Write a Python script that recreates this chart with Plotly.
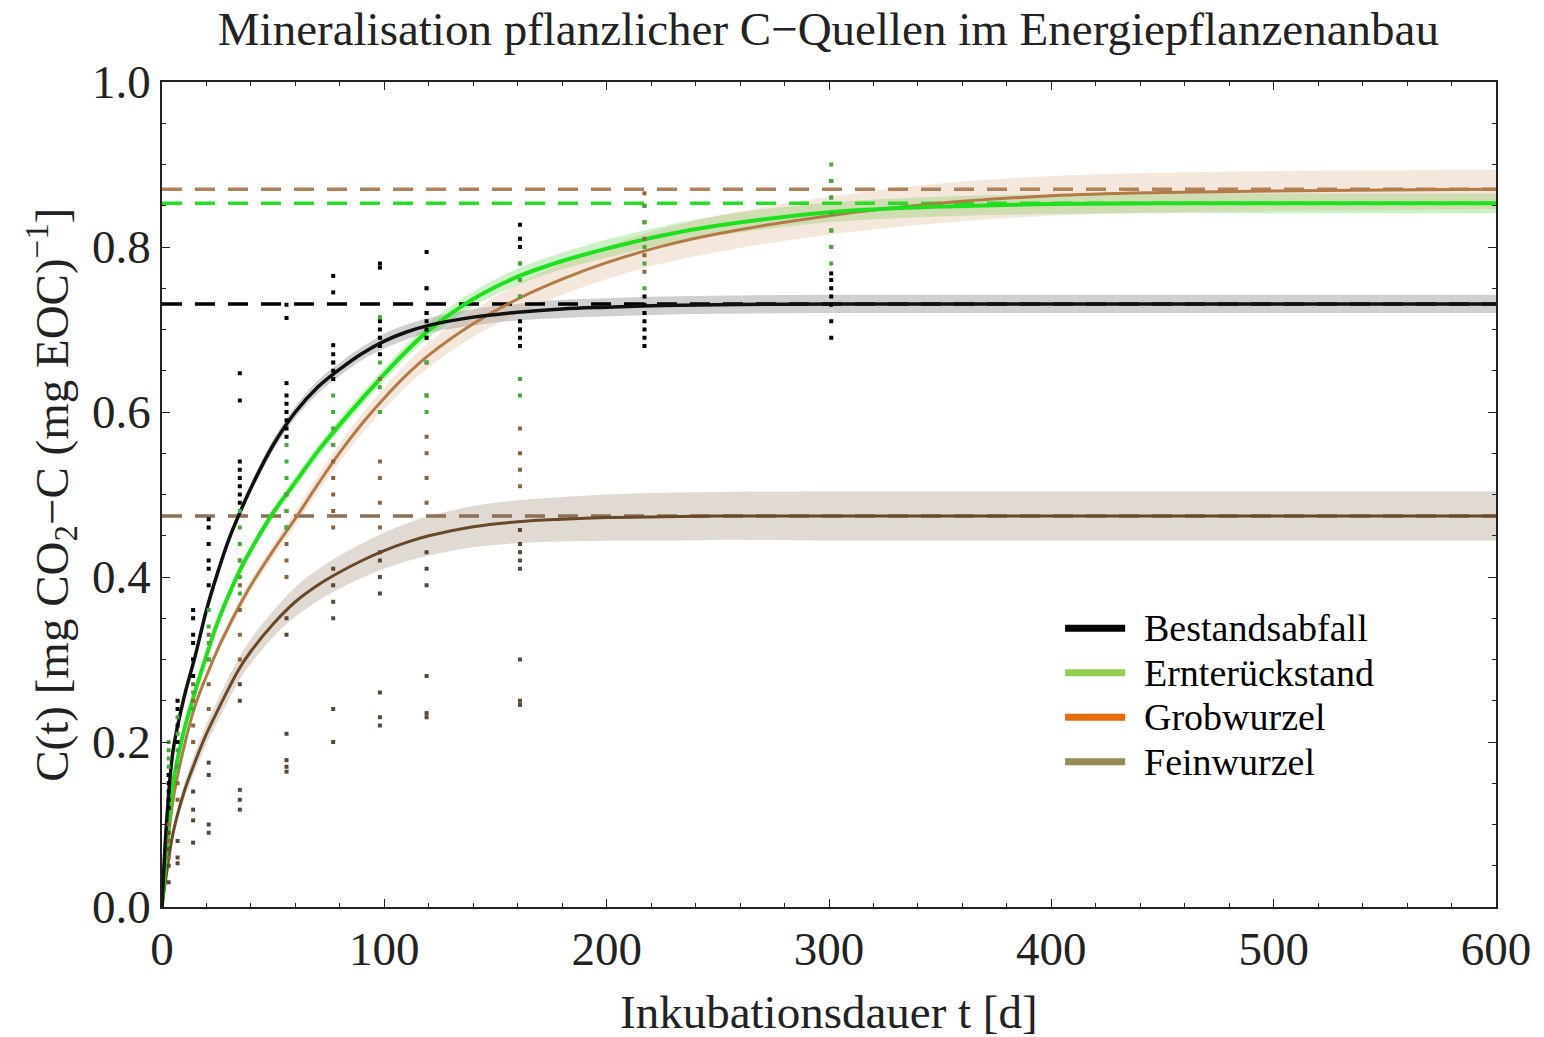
import plotly.graph_objects as go

# ---------------- data ----------------
series_names = ["Bestandsabfall", "Ernterückstand", "Grobwurzel", "Feinwurzel"]
legend_colors = ["#000000", "#92D050", "#E46C0A", "#948A54"]

# fitted curves sampled at these days
fit_days = [0, 2, 5, 10, 15, 20, 25, 30, 35, 40, 50, 60, 70, 80, 90, 100, 110, 120,
            140, 160, 180, 200, 225, 250, 300, 350, 400, 450, 500, 550, 600]
fit_bestandsabfall = [0, 0.10, 0.19, 0.255, 0.305, 0.36, 0.405, 0.445, 0.478, 0.508, 0.56, 0.60,
                      0.63, 0.652, 0.671, 0.686, 0.697, 0.705, 0.715, 0.721, 0.725, 0.727, 0.729,
                      0.730, 0.731, 0.731, 0.731, 0.731, 0.731, 0.731, 0.731]
fit_ernterueckstand = [0, 0.07, 0.15, 0.215, 0.262, 0.305, 0.345, 0.378, 0.408, 0.433, 0.478, 0.515,
                       0.552, 0.585, 0.616, 0.646, 0.674, 0.699, 0.737, 0.764, 0.783, 0.798, 0.814,
                       0.826, 0.842, 0.849, 0.852, 0.853, 0.853, 0.853, 0.853]
fit_grobwurzel = [0, 0.06, 0.13, 0.195, 0.245, 0.28, 0.312, 0.34, 0.366, 0.39, 0.432, 0.471,
                  0.512, 0.551, 0.586, 0.617, 0.645, 0.669, 0.707, 0.737, 0.761, 0.781, 0.801,
                  0.816, 0.838, 0.853, 0.862, 0.866, 0.868, 0.869, 0.870]
fit_feinwurzel = [0, 0.04, 0.09, 0.14, 0.177, 0.21, 0.238, 0.265, 0.29, 0.31, 0.343, 0.37,
                  0.39, 0.406, 0.42, 0.432, 0.442, 0.450, 0.461, 0.467, 0.470, 0.472, 0.473,
                  0.474, 0.474, 0.474, 0.474, 0.474, 0.474, 0.474, 0.474]

# half widths of the confidence bands on the same days
band_bestandsabfall = [0, 0.002, 0.003, 0.004, 0.004, 0.005, 0.005, 0.006, 0.006, 0.006, 0.007, 0.007,
                       0.008, 0.008, 0.008, 0.009, 0.009, 0.009, 0.010, 0.010, 0.011, 0.011, 0.011,
                       0.011, 0.011, 0.011, 0.011, 0.011, 0.011, 0.011, 0.011]
band_ernterueckstand = [0, 0.002, 0.003, 0.004, 0.004, 0.005, 0.005, 0.005, 0.006, 0.006, 0.006, 0.007,
                        0.007, 0.007, 0.008, 0.008, 0.008, 0.009, 0.009, 0.010, 0.010, 0.011, 0.011,
                        0.012, 0.012, 0.012, 0.012, 0.012, 0.012, 0.012, 0.012]
band_grobwurzel = [0, 0.002, 0.003, 0.004, 0.005, 0.005, 0.006, 0.006, 0.007, 0.007, 0.008, 0.009,
                   0.010, 0.011, 0.012, 0.013, 0.014, 0.015, 0.016, 0.018, 0.019, 0.020, 0.021,
                   0.022, 0.023, 0.024, 0.024, 0.024, 0.024, 0.024, 0.024]
band_feinwurzel = [0, 0.004, 0.007, 0.009, 0.011, 0.012, 0.013, 0.014, 0.014, 0.015, 0.016, 0.018,
                   0.019, 0.020, 0.021, 0.022, 0.023, 0.024, 0.025, 0.026, 0.027, 0.028, 0.029,
                   0.029, 0.030, 0.030, 0.030, 0.030, 0.030, 0.030, 0.030]

# asymptotes (dashed lines)
asymptotes = [0.731, 0.853, 0.870, 0.474]

# measured replicates
pts_bestandsabfall_t = [3]*5 + [7]*4 + [14]*6 + [21]*6 + [35]*8 + [56]*9 + [77]*7 + [98]*7 + [119]*6 + [161]*7 + [217]*7 + [301]*7
pts_bestandsabfall_v = [0.12, 0.13, 0.14, 0.15, 0.16,
                        0.20, 0.22, 0.24, 0.25,
                        0.28, 0.30, 0.32, 0.33, 0.35, 0.36,
                        0.39, 0.41, 0.42, 0.44, 0.46, 0.47,
                        0.49, 0.50, 0.51, 0.52, 0.53, 0.54, 0.614, 0.647,
                        0.57, 0.58, 0.59, 0.60, 0.61, 0.62, 0.635, 0.714, 0.73,
                        0.64, 0.65, 0.66, 0.67, 0.681, 0.745, 0.765,
                        0.67, 0.68, 0.69, 0.70, 0.71, 0.775, 0.78,
                        0.69, 0.70, 0.71, 0.72, 0.75, 0.794,
                        0.68, 0.69, 0.70, 0.71, 0.80, 0.81, 0.827,
                        0.68, 0.69, 0.70, 0.71, 0.72, 0.73, 0.74,
                        0.69, 0.71, 0.73, 0.74, 0.75, 0.76, 0.768]

pts_ernterueckstand_t = [3]*5 + [7]*4 + [14]*4 + [21]*4 + [35]*6 + [56]*6 + [77]*6 + [98]*5 + [119]*6 + [161]*7 + [217]*6 + [301]*7
pts_ernterueckstand_v = [0.16, 0.17, 0.18, 0.19, 0.20,
                         0.17, 0.19, 0.21, 0.23,
                         0.24, 0.26, 0.28, 0.30,
                         0.30, 0.32, 0.34, 0.36,
                         0.38, 0.40, 0.42, 0.44, 0.46, 0.48,
                         0.46, 0.48, 0.50, 0.52, 0.54, 0.56,
                         0.56, 0.58, 0.60, 0.62, 0.64, 0.66,
                         0.60, 0.63, 0.66, 0.69, 0.715,
                         0.60, 0.62, 0.66, 0.69, 0.72, 0.75,
                         0.62, 0.64, 0.74, 0.76, 0.78, 0.80, 0.81,
                         0.72, 0.75, 0.78, 0.80, 0.83, 0.85,
                         0.78, 0.80, 0.82, 0.84, 0.86, 0.88, 0.90]

pts_grobwurzel_t = [3]*4 + [7]*3 + [14]*4 + [21]*4 + [35]*5 + [56]*6 + [77]*6 + [98]*6 + [119]*7 + [161]*7 + [217]*6 + [301]*5
pts_grobwurzel_v = [0.06, 0.08, 0.10, 0.12,
                    0.13, 0.15, 0.17,
                    0.20, 0.22, 0.25, 0.27,
                    0.24, 0.27, 0.30, 0.33,
                    0.30, 0.33, 0.36, 0.39, 0.42,
                    0.40, 0.42, 0.44, 0.46, 0.48, 0.50,
                    0.46, 0.48, 0.50, 0.52, 0.54, 0.56,
                    0.46, 0.49, 0.52, 0.54, 0.60, 0.64,
                    0.49, 0.52, 0.55, 0.57, 0.62, 0.66, 0.70,
                    0.51, 0.53, 0.55, 0.58, 0.70, 0.74, 0.78,
                    0.77, 0.79, 0.81, 0.83, 0.85, 0.865,
                    0.80, 0.82, 0.84, 0.86, 0.88]

pts_feinwurzel_t = [3]*4 + [7]*3 + [14]*4 + [21]*4 + [35]*5 + [56]*6 + [77]*6 + [98]*7 + [119]*6 + [161]*8
pts_feinwurzel_v = [0.03, 0.05, 0.07, 0.09,
                    0.053, 0.06, 0.08,
                    0.078, 0.105, 0.118, 0.14,
                    0.09, 0.10, 0.16, 0.175,
                    0.118, 0.13, 0.142, 0.25, 0.27,
                    0.164, 0.17, 0.178, 0.21, 0.33, 0.35,
                    0.20, 0.24, 0.35, 0.37, 0.39, 0.41,
                    0.22, 0.23, 0.26, 0.38, 0.40, 0.42, 0.43,
                    0.23, 0.235, 0.28, 0.39, 0.41, 0.43,
                    0.245, 0.25, 0.30, 0.41, 0.42, 0.43, 0.44, 0.457]

x_ticks = [0, 100, 200, 300, 400, 500, 600]
y_ticks = [0.0, 0.2, 0.4, 0.6, 0.8, 1.0]

# ---------------- styling ----------------
fits = [fit_bestandsabfall, fit_ernterueckstand, fit_grobwurzel, fit_feinwurzel]
bands = [band_bestandsabfall, band_ernterueckstand, band_grobwurzel, band_feinwurzel]
pts_t = [pts_bestandsabfall_t, pts_ernterueckstand_t, pts_grobwurzel_t, pts_feinwurzel_t]
pts_v = [pts_bestandsabfall_v, pts_ernterueckstand_v, pts_grobwurzel_v, pts_feinwurzel_v]

curve_colors = ["#111111", "rgb(30,225,30)", "rgb(180,122,70)", "rgb(105,72,40)"]
curve_widths = [3.5, 4, 3, 3]
band_colors = ["rgba(150,150,150,0.45)", "rgba(90,210,70,0.30)",
               "rgba(215,170,130,0.28)", "rgba(170,150,130,0.35)"]
dash_colors = ["#000000", "rgb(40,220,40)", "rgb(175,130,90)", "rgb(140,112,85)"]
point_colors = ["#000000", "rgb(70,170,60)", "rgb(140,100,60)", "rgb(90,70,50)"]

SERIF = "Liberation Serif"
fig = go.Figure()

# confidence bands
for i in range(4):
    up = [f + b for f, b in zip(fits[i], bands[i])]
    lo = [f - b for f, b in zip(fits[i], bands[i])]
    fig.add_trace(go.Scatter(x=fit_days, y=up, mode="lines", line=dict(width=0, shape="spline"),
                             showlegend=False, hoverinfo="skip"))
    fig.add_trace(go.Scatter(x=fit_days, y=lo, mode="lines", line=dict(width=0, shape="spline"),
                             fill="tonexty", fillcolor=band_colors[i], showlegend=False, hoverinfo="skip"))

# asymptote dashed lines
for i in range(4):
    fig.add_trace(go.Scatter(x=[0, 600], y=[asymptotes[i], asymptotes[i]], mode="lines",
                             line=dict(color=dash_colors[i], width=3.5, dash="20px,13px"),
                             showlegend=False, hoverinfo="skip"))

# fitted curves
for i in [3, 2, 1, 0]:
    fig.add_trace(go.Scatter(x=fit_days, y=fits[i], mode="lines",
                             line=dict(color=curve_colors[i], width=curve_widths[i], shape="spline", smoothing=1.0),
                             name=series_names[i], showlegend=False))

# measured points
for i in [3, 2, 1, 0]:
    fig.add_trace(go.Scatter(x=pts_t[i], y=pts_v[i], mode="markers",
                             marker=dict(symbol="square", size=4, color=point_colors[i], line=dict(width=0)),
                             showlegend=False, name=series_names[i]))

# manual legend
shapes = []
annotations = []
leg_y = [0.338, 0.284, 0.230, 0.176]
for i in range(4):
    shapes.append(dict(type="line", xref="paper", yref="paper", x0=0.677, x1=0.722,
                       y0=leg_y[i], y1=leg_y[i], line=dict(color=legend_colors[i], width=7)))
    annotations.append(dict(xref="paper", yref="paper", x=0.735, y=leg_y[i], text=series_names[i],
                            showarrow=False, xanchor="left", yanchor="middle",
                            font=dict(family=SERIF, size=38, color="#000")))

# axis titles
annotations.append(dict(xref="paper", yref="paper", x=0.5, y=-0.127, text="Inkubationsdauer t [d]",
                        showarrow=False, xanchor="center", yanchor="middle",
                        font=dict(family=SERIF, size=47, color="#222")))
annotations.append(dict(xref="paper", yref="paper", x=-0.083, y=0.5, textangle=-90,
                        text="C(t) [mg CO<sub>2</sub>−C (mg EOC)<sup>−1</sup>]",
                        showarrow=False, xanchor="center", yanchor="middle",
                        font=dict(family=SERIF, size=47, color="#222")))

axis_common = dict(showline=True, linecolor="#222", linewidth=1.5, mirror="allticks",
                   ticks="inside", ticklen=8, tickwidth=1.2, tickcolor="#222",
                   showgrid=False, zeroline=False,
                   tickfont=dict(family=SERIF, size=47, color="#222"))

fig.update_layout(
    width=1544, height=1037,
    margin=dict(l=162, r=48, t=82, b=130),
    paper_bgcolor="white", plot_bgcolor="white",
    title=dict(text="Mineralisation pflanzlicher C−Quellen im Energiepflanzenanbau",
               x=0.5365, xanchor="center", y=0.972, yanchor="middle",
               font=dict(family=SERIF, size=47, color="#222")),
    xaxis=dict(range=[0, 600], tickvals=x_ticks, ticktext=[str(v) for v in x_ticks],
               minor=dict(ticks="inside", dtick=20, ticklen=4, tickcolor="#222", tickwidth=1),
               **axis_common),
    yaxis=dict(range=[0, 1.0], tickvals=y_ticks, ticktext=[f"{v:.1f}" for v in y_ticks],
               minor=dict(ticks="inside", dtick=0.05, ticklen=4, tickcolor="#222", tickwidth=1),
               **axis_common),
    shapes=shapes, annotations=annotations, showlegend=False,
)

fig.write_html("out.html")
